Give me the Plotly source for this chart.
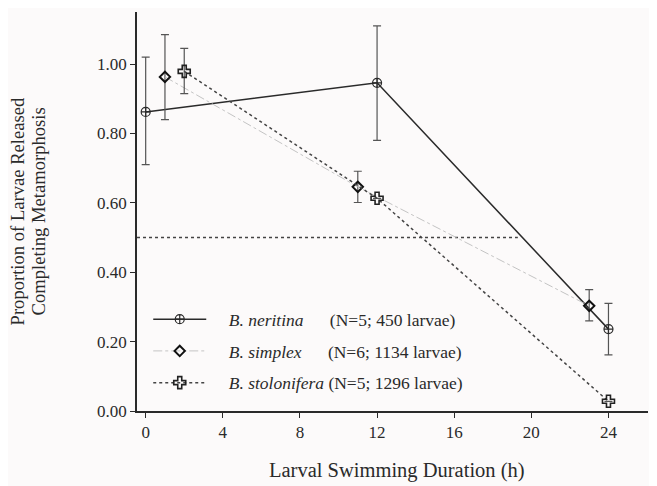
import plotly.graph_objects as go

# ---- data ----
hours_neritina = [0, 12, 24]
prop_neritina = [0.862, 0.946, 0.236]
err_plus_neritina = [0.158, 0.164, 0.074]
err_minus_neritina = [0.152, 0.166, 0.074]

hours_simplex = [1, 11, 23]
prop_simplex = [0.963, 0.646, 0.303]
err_plus_simplex = [0.122, 0.045, 0.047]
err_minus_simplex = [0.123, 0.045, 0.043]

hours_stolonifera = [2, 12, 24]
prop_stolonifera = [0.979, 0.613, 0.028]
err_plus_stolonifera = [0.066, None, None]
err_minus_stolonifera = [0.064, None, None]

species = ["B. neritina", "B. simplex", "B. stolonifera"]
sample_info = ["(N=5; 450 larvae)", "(N=6; 1134 larvae)", "(N=5; 1296 larvae)"]

x_title = "Larval Swimming Duration (h)"
y_title_lines = ["Proportion of Larvae Released", "Completing Metamorphosis"]

ref_level = 0.50
ref_x_start = -0.45
ref_x_end = 19.3

x_ticks = [0, 4, 8, 12, 16, 20, 24]
y_ticks = [0.0, 0.2, 0.4, 0.6, 0.8, 1.0]

FONT = "Liberation Serif"
INK = "#2a2a2a"
NB = "\u00a0"

def label(i, pad):
    return NB * 4 + f"<i>{species[i]}</i>" + NB * pad + sample_info[i]

fig = go.Figure()

fig.add_trace(go.Scatter(
    x=hours_neritina, y=prop_neritina, name=label(0, 6),
    mode="lines+markers", legendgroup="a",
    line=dict(color=INK, width=1.5),
    marker=dict(symbol="circle-cross-open", size=9, color=INK, line=dict(width=1.2)),
    error_y=dict(type="data", symmetric=False, array=err_plus_neritina,
                 arrayminus=err_minus_neritina, color="#555", thickness=1.2, width=4),
))
fig.add_trace(go.Scatter(
    x=hours_simplex, y=prop_simplex, name=label(1, 6),
    mode="lines+markers", legendgroup="b",
    line=dict(color="#c4c4c4", width=1, dash="dashdot"),
    marker=dict(symbol="diamond-open", size=8, color="#111", line=dict(width=2)),
    error_y=dict(type="data", symmetric=False, array=err_plus_simplex,
                 arrayminus=err_minus_simplex, color="#555", thickness=1.2, width=4),
))
fig.add_trace(go.Scatter(
    x=hours_stolonifera, y=prop_stolonifera, name=label(2, 1),
    mode="lines+markers", legendgroup="c",
    line=dict(color="#444", width=1.5, dash="dot"),
    marker=dict(symbol="cross-open", size=10, color="#222", line=dict(width=1.6)),
    error_y=dict(type="data", symmetric=False, array=err_plus_stolonifera,
                 arrayminus=err_minus_stolonifera, color="#555", thickness=1.2, width=4),
))

fig.add_shape(type="line", x0=ref_x_start, x1=ref_x_end, y0=ref_level, y1=ref_level,
              xref="x", yref="y", line=dict(color="#444", width=1.5, dash="dot"), layer="below")

# axis titles as annotations (for precise line spacing)
fig.add_annotation(text=x_title, xref="paper", yref="paper", x=0.508, y=-0.148,
                   xanchor="center", yanchor="middle", showarrow=False,
                   font=dict(family=FONT, size=20.5, color=INK))
for txt, xp in zip(y_title_lines, [-0.233, -0.192]):
    fig.add_annotation(text=txt, xref="paper", yref="paper", x=xp, y=0.50,
                       xanchor="center", yanchor="middle", textangle=-90, showarrow=False,
                       font=dict(family=FONT, size=18.6, color=INK))

fig.update_layout(
    width=657, height=486,
    margin=dict(l=129, r=17, t=4, b=83),
    paper_bgcolor="#fcfafa", plot_bgcolor="#fcfafa",
    font=dict(family=FONT, size=17, color=INK),
    showlegend=True,
    legend=dict(x=0.022, y=0.275, xanchor="left", yanchor="top",
                bgcolor="rgba(0,0,0,0)", font=dict(family=FONT, size=17.5, color=INK),
                traceorder="grouped", tracegroupgap=6, itemwidth=53),
    xaxis=dict(range=[-0.45, 26.05], tickvals=x_ticks, showgrid=False, zeroline=False,
               showline=True, linecolor=INK, linewidth=1.5, ticks="outside", ticklen=5,
               tickwidth=1.3, tickcolor=INK, automargin=False),
    yaxis=dict(range=[0, 1.15], tickvals=y_ticks, tickformat=".2f", showgrid=False, zeroline=False,
               showline=True, linecolor=INK, linewidth=1.5, ticks="outside", ticklen=5,
               tickwidth=1.3, tickcolor=INK, automargin=False),
)

fig.write_html("out.html")
